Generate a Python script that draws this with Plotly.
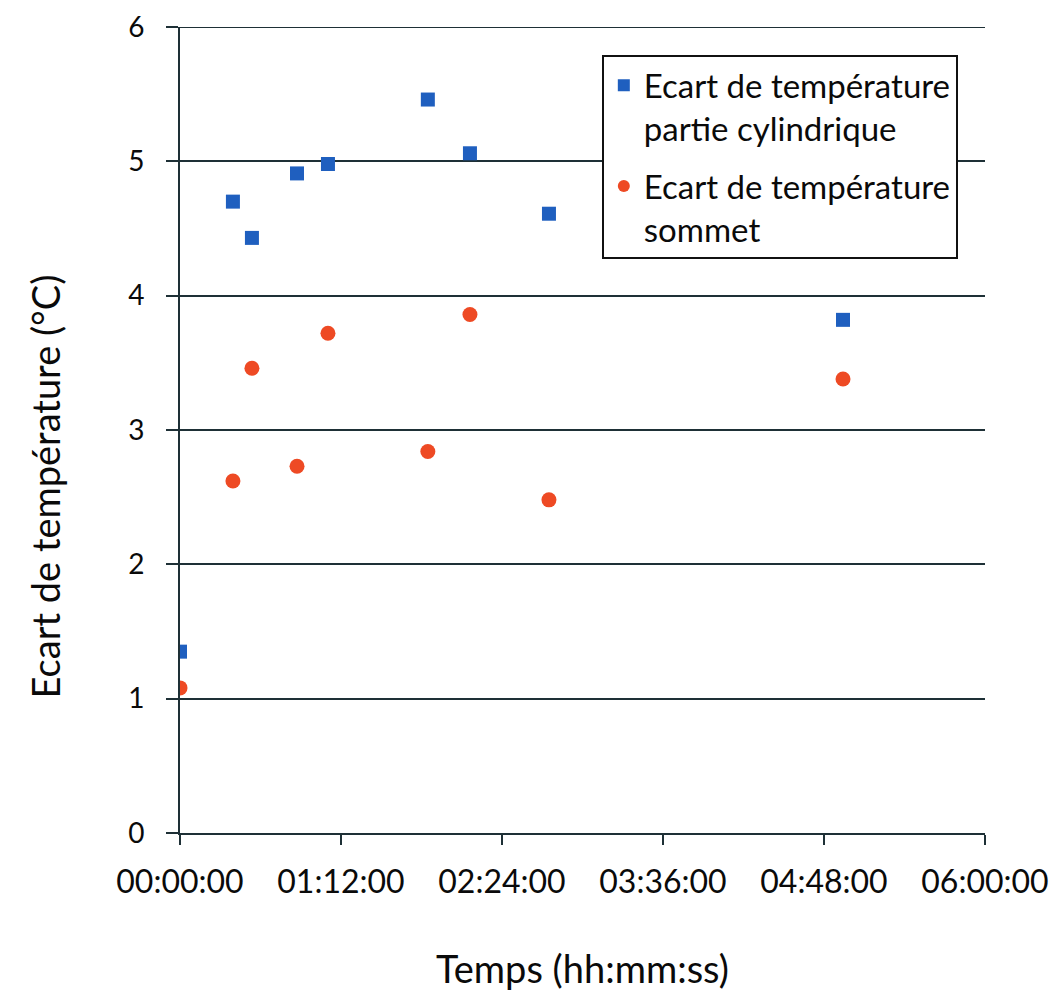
import plotly.graph_objects as go

# Data (time as hh:mm:ss, converted to minutes)
times = ["00:00:00", "00:23:40", "00:32:10", "00:52:20", "01:06:10",
         "01:50:50", "02:09:40", "02:45:00", "04:56:30"]
ecart_cyl = [1.35, 4.70, 4.43, 4.91, 4.98, 5.46, 5.06, 4.61, 3.82]
ecart_sommet = [1.08, 2.62, 3.46, 2.73, 3.72, 2.84, 3.86, 2.48, 3.38]
tick_labels = ["00:00:00", "01:12:00", "02:24:00", "03:36:00", "04:48:00", "06:00:00"]
tick_minutes = [0, 72, 144, 216, 288, 360]
y_ticks = [0, 1, 2, 3, 4, 5, 6]

def to_min(s):
    h, m, sec = (int(v) for v in s.split(":"))
    return h * 60 + m + sec / 60

x = [to_min(t) for t in times]

FONT = "Lato, Carlito, 'Open Sans', sans-serif"
DARK = "#1e3036"
TXT = "#0a0a0a"

fig = go.Figure()
fig.add_trace(go.Scatter(
    x=x, y=ecart_cyl, mode="markers",
    name="Ecart de température<br>partie cylindrique",
    legendgroup="a",
    marker=dict(symbol="square", size=14, color="#1f5fbf"),
))
fig.add_trace(go.Scatter(
    x=x, y=ecart_sommet, mode="markers",
    name="Ecart de température<br>sommet",
    legendgroup="b",
    marker=dict(symbol="circle", size=15, color="#ee4a24"),
))

# page body has an 8px margin, so the figure is made 8px smaller
fig.update_layout(
    width=1049, height=988,
    margin=dict(l=172, r=72, t=19, b=163, autoexpand=False),
    paper_bgcolor="white", plot_bgcolor="white",
    font=dict(family=FONT, size=28, color=TXT),
    showlegend=True,
    legend=dict(
        x=0.524, y=0.965, xanchor="left", yanchor="top",
        bgcolor="white", bordercolor="#111111", borderwidth=2,
        font=dict(size=33, color=TXT), itemsizing="constant",
        tracegroupgap=12, valign="top",
    ),
    xaxis=dict(
        range=[0, 360], tickvals=tick_minutes, ticktext=tick_labels,
        showgrid=False, zeroline=False, automargin=False,
        showline=True, linecolor=DARK, linewidth=2,
        ticks="outside", ticklen=10, tickwidth=2, tickcolor=DARK,
        ticklabelstandoff=10, ticklabeloverflow="allow",
        tickfont=dict(size=32, color=TXT),
    ),
    yaxis=dict(
        range=[0, 6], tickvals=y_ticks,
        showgrid=True, gridcolor=DARK, gridwidth=2,
        zeroline=False, automargin=False,
        showline=True, linecolor=DARK, linewidth=2,
        ticks="outside", ticklen=12, tickwidth=2, tickcolor=DARK,
        ticklabelstandoff=16, ticklabeloverflow="allow",
        tickfont=dict(size=28, color=TXT),
    ),
    shapes=[
        # top gridline (plotly hides the gridline that sits on the plot edge)
        dict(type="line", xref="paper", x0=0, x1=1, yref="y",
             y0=y_ticks[-1], y1=y_ticks[-1],
             line=dict(color=DARK, width=2), layer="below"),
    ],
    annotations=[
        dict(text="Ecart de température (°C)", textangle=-90,
             xref="paper", yref="paper", x=-0.1677, y=0.430,
             xanchor="center", yanchor="middle", showarrow=False,
             font=dict(size=38, color=TXT)),
        dict(text="Temps (hh:mm:ss)",
             xref="paper", yref="paper", x=0.5, y=-0.1669,
             xanchor="center", yanchor="middle", showarrow=False,
             font=dict(size=38, color=TXT)),
    ],
)

fig.write_html("out.html")
